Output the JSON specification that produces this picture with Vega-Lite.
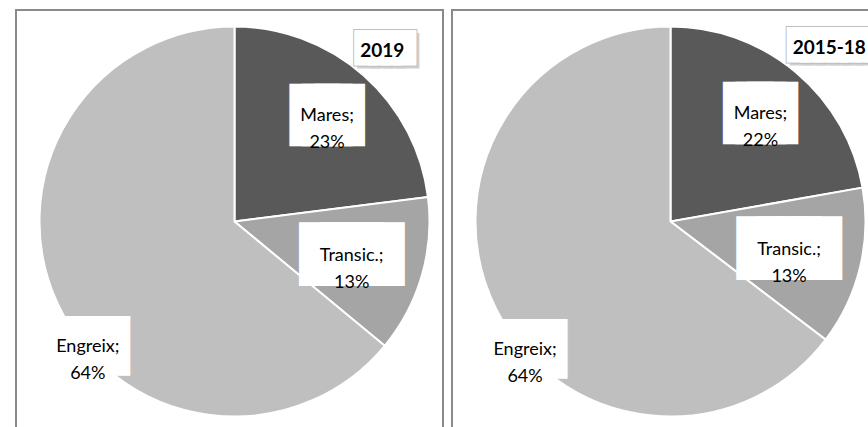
{
  "$schema": "https://vega.github.io/schema/vega-lite/v6.json",
  "padding": {"left": 15, "top": 9, "right": 0, "bottom": 0},
  "bounds": "flush",
  "data": {
    "values": [
      {"periode": "2019", "cat": "Mares", "value": 23},
      {"periode": "2019", "cat": "Transic.", "value": 13},
      {"periode": "2019", "cat": "Engreix", "value": 64},
      {"periode": "2015-18", "cat": "Mares", "value": 22},
      {"periode": "2015-18", "cat": "Transic.", "value": 13},
      {"periode": "2015-18", "cat": "Engreix", "value": 64}
    ]
  },
  "transform": [
    {"calculate": "indexof(['Mares','Transic.','Engreix'], datum.cat)", "as": "ord"},
    {"calculate": "[datum.cat + ';', datum.value + '%']", "as": "label"},
    {"calculate": "pad('', length(datum.periode), '█')", "as": "boxtxt"}
  ],
  "facet": {
    "column": {"field": "periode", "type": "nominal", "sort": ["2019", "2015-18"], "header": {"title": null, "labels": false}}
  },
  "spacing": 9,
  "spec": {
    "width": 427,
    "height": 424,
    "view": {"stroke": "#8a8a8a", "strokeWidth": 2, "fill": "white"},
    "encoding": {
      "theta": {"field": "value", "type": "quantitative", "stack": "normalize"},
      "order": {"field": "ord", "type": "quantitative"}
    },
    "layer": [
      {
        "mark": {"type": "arc", "outerRadius": 195, "stroke": "white", "strokeWidth": 2, "x": 218.5, "y": 211.5},
        "encoding": {
          "color": {"field": "cat", "type": "nominal", "scale": {"domain": ["Mares", "Transic.", "Engreix"], "range": ["#595959", "#a5a5a5", "#bfbfbf"]}, "legend": null}
        }
      },
      {
        "mark": {"type": "text", "radius": 140, "x": 218.5, "y": 211.5, "font": "DejaVu Sans Mono", "fontSize": 20.2, "fill": "white", "stroke": "white", "strokeWidth": 38.5, "strokeJoin": "miter", "align": "center", "baseline": "middle"},
        "encoding": {"text": {"condition": {"test": "datum.cat==='Mares'", "value": "███"}, "value": ""}}
      },
      {
        "mark": {"type": "text", "radius": 122, "x": 218.5, "y": 211.5, "font": "DejaVu Sans Mono", "fontSize": 33.8, "fill": "white", "stroke": "white", "strokeWidth": 23.7, "strokeJoin": "miter", "align": "center", "baseline": "middle"},
        "encoding": {"text": {"condition": {"test": "datum.cat==='Transic.'", "value": "████"}, "value": ""}}
      },
      {
        "mark": {"type": "text", "radius": 140, "dx": -20, "dy": 66, "x": 218.5, "y": 211.5, "font": "DejaVu Sans Mono", "fontSize": 38.9, "fill": "white", "stroke": "white", "strokeWidth": 13.7, "strokeJoin": "miter", "align": "center", "baseline": "middle"},
        "encoding": {"text": {"condition": {"test": "datum.cat==='Engreix'", "value": "███"}, "value": ""}}
      },
      {
        "mark": {"type": "text", "radius": 140, "x": 218.5, "y": 211.5, "font": "Lato", "fontSize": 18, "lineHeight": 27, "fill": "#000000", "align": "center", "baseline": "middle"},
        "encoding": {"text": {"condition": {"test": "datum.cat==='Mares'", "field": "label"}, "value": ""}}
      },
      {
        "mark": {"type": "text", "radius": 122, "x": 218.5, "y": 211.5, "font": "Lato", "fontSize": 18, "lineHeight": 27, "fill": "#000000", "align": "center", "baseline": "middle"},
        "encoding": {"text": {"condition": {"test": "datum.cat==='Transic.'", "field": "label"}, "value": ""}}
      },
      {
        "mark": {"type": "text", "radius": 140, "dx": -20, "dy": 66, "x": 218.5, "y": 211.5, "font": "Lato", "fontSize": 18, "lineHeight": 27, "fill": "#000000", "align": "center", "baseline": "middle"},
        "encoding": {"text": {"condition": {"test": "datum.cat==='Engreix'", "field": "label"}, "value": ""}}
      },
      {
        "mark": {"type": "text", "radius": 190, "dx": 2, "dy": -28, "x": 218.5, "y": 211.5, "font": "DejaVu Sans Mono", "fontSize": 21.7, "fill": "#000000", "stroke": "#000000", "strokeWidth": 9.7, "strokeJoin": "miter", "opacity": 0.18, "align": "left", "baseline": "middle"},
        "encoding": {"text": {"condition": {"test": "datum.cat==='Mares'", "field": "boxtxt"}, "value": ""}}
      },
      {
        "mark": {"type": "text", "radius": 190, "dx": -1, "dy": -31, "x": 218.5, "y": 211.5, "font": "DejaVu Sans Mono", "fontSize": 21.7, "fill": "#bfbfbf", "stroke": "#bfbfbf", "strokeWidth": 11.7, "strokeJoin": "miter", "align": "left", "baseline": "middle"},
        "encoding": {"text": {"condition": {"test": "datum.cat==='Mares'", "field": "boxtxt"}, "value": ""}}
      },
      {
        "mark": {"type": "text", "radius": 190, "dx": -1, "dy": -31, "x": 218.5, "y": 211.5, "font": "DejaVu Sans Mono", "fontSize": 21.7, "fill": "white", "stroke": "white", "strokeWidth": 9.7, "strokeJoin": "miter", "align": "left", "baseline": "middle"},
        "encoding": {"text": {"condition": {"test": "datum.cat==='Mares'", "field": "boxtxt"}, "value": ""}}
      },
      {
        "mark": {"type": "text", "radius": 190, "dx": 0, "dy": -28, "x": 218.5, "y": 211.5, "font": "Lato", "fontSize": 19, "fontWeight": "bold", "fill": "#000000", "align": "left", "baseline": "middle"},
        "encoding": {"text": {"condition": {"test": "datum.cat==='Mares'", "field": "periode"}, "value": ""}}
      }
    ]
  },
  "config": {
    "view": {"stroke": "#8a8a8a", "strokeWidth": 2},
    "style": {"cell": {"stroke": "#8a8a8a", "strokeWidth": 2}}
  }
}
